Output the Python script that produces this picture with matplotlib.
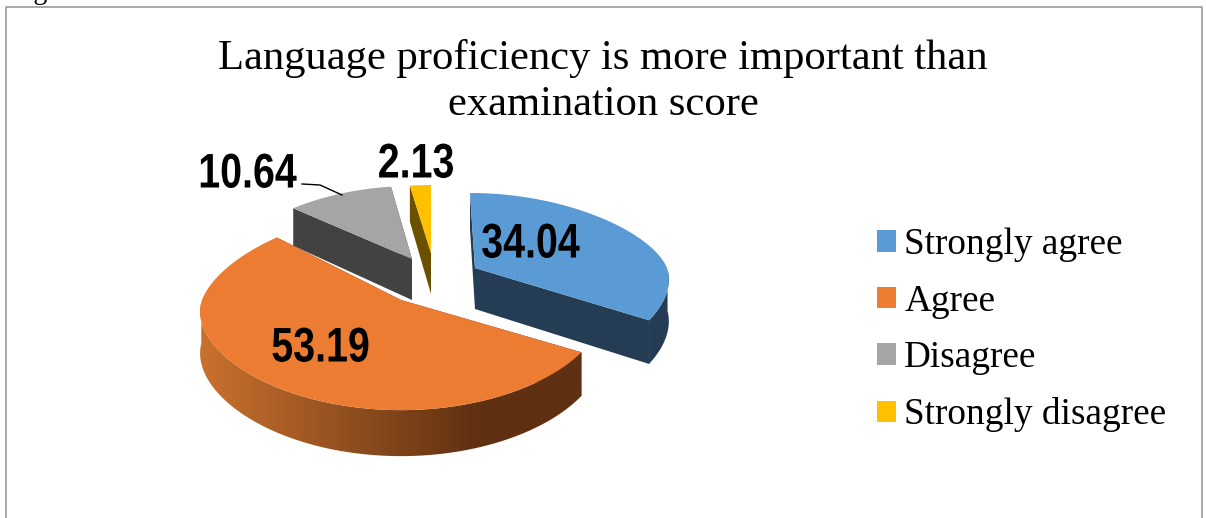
import numpy as np
import matplotlib
matplotlib.use("Agg")
import matplotlib.pyplot as plt
from matplotlib.patches import Polygon, Patch
from matplotlib.colors import LinearSegmentedColormap
from matplotlib.patheffects import AbstractPathEffect
from matplotlib.transforms import Affine2D

categories = ["Strongly agree", "Agree", "Disagree", "Strongly disagree"]
values = [34.04, 53.19, 10.64, 2.13]
title_text = "Language proficiency is more important than\nexamination score"

colors = ["#5B9BD5", "#EB7C31", "#A5A5A5", "#FFC000"]
side_colors = ["#243D55", "#5F3011", "#424242", "#6B5000"]
# slice layout in pixels: tip x, tip y, x radius, back y radius, shift of the back
tips = [(475, 268), (401, 300), (412, 259), (431, 253)]
rx = [192, 199, 183, 184]
ry_back = [75, 90, 73, 68]
back_shift = [-5, 7, 0, 0]
label_pos = [(542, 245), (332, 349), (259, 175), (425, 165)]

SERIF = ["Liberation Serif", "DejaVu Serif"]
SANS = ["Liberation Sans", "DejaVu Sans"]


class Condense(AbstractPathEffect):
    """Narrow a text horizontally about a pixel x, the text stays a text artist."""

    def __init__(self, factor):
        super().__init__()
        self.factor = factor

    def draw_path(self, renderer, gc, tpath, affine, rgbFace=None):
        cx = affine.get_matrix()[0, 2]
        squeezed = affine + Affine2D().translate(-cx, 0).scale(self.factor, 1).translate(cx, 0)
        renderer.draw_path(gc, tpath, squeezed, rgbFace)


fig = plt.figure(figsize=(12.06, 5.18), dpi=100, facecolor="white")
ax = fig.add_axes([0, 0, 1, 1])
ax.set_xlim(0, 1206)
ax.set_ylim(518, 0)
ax.axis("off")


def project(theta, i):
    X, Y = np.sin(theta), np.cos(theta)
    x = tips[i][0] + rx[i] * X * (1 - 0.14 * Y) + back_shift[i] * np.clip(Y, 0, None)
    y = np.where(Y > 0, tips[i][1] - ry_back[i] * Y,
                 tips[i][1] + 82 * (-Y) * (1 + 0.343 * (-Y)))
    return x, y


def depth(theta):
    return 41 - 5 * np.cos(theta)


total = sum(values)
edges = np.concatenate([[0], np.cumsum(values)]) / total * 2 * np.pi

# frame, open at the bottom of the picture
ax.plot([6, 6, 1202, 1202], [518, 7, 7, 518], color="#9A9A9A", lw=1.2, zorder=1)
ax.text(10, -1, "Figure 3", fontsize=20, family=SERIF, color="black", ha="left", va="baseline")

wall_cmap = LinearSegmentedColormap.from_list("wall", ["#C8702E", side_colors[1]])

order = [2, 3, 0, 1]
for i in order:
    a0, a1 = edges[i], edges[i + 1]
    th = np.linspace(a0, a1, 240)
    x, y = project(th, i)
    tx, ty = tips[i]
    z = 3 + order.index(i)
    # straight cut faces
    for ex, ey, ea in ((x[0], y[0], a0), (x[-1], y[-1], a1)):
        ax.add_patch(Polygon([(tx, ty), (ex, ey), (ex, ey + depth(ea)), (tx, ty + 41)],
                             closed=True, fc=side_colors[i], ec="none", zorder=z))
    # curved outer wall
    d = depth(th)
    front = np.cos(th) < -0.02
    if front.any():
        wall = np.r_[np.column_stack([x[front], y[front]]),
                     np.column_stack([x[front], y[front] + d[front]])[::-1]]
        if i == 1:
            patch = Polygon(wall, closed=True, fc="none", ec="none", zorder=z)
            ax.add_patch(patch)
            grad = np.clip((np.linspace(190, 600, 400) - 205) / 275, 0, 1)[None, :]
            im = ax.imshow(grad, extent=(190, 600, 470, 290), cmap=wall_cmap, vmin=0, vmax=1,
                           aspect="auto", zorder=z, interpolation="bilinear")
            im.set_clip_path(patch)
            ax.set_xlim(0, 1206)
            ax.set_ylim(518, 0)
        else:
            ax.add_patch(Polygon(wall, closed=True, fc=side_colors[i], ec="none", zorder=z))
    # top face
    pts = np.column_stack([np.r_[tx, x], np.r_[ty, y]])
    ax.add_patch(Polygon(pts, closed=True, fc=colors[i], ec="none", zorder=z + 0.5))

for v, (lx, ly) in zip(values, label_pos):
    ax.text(lx, ly, f"{v:.2f}", fontsize=35, fontweight="bold", family=SANS,
            ha="center", va="center", color="black", zorder=20,
            path_effects=[Condense(0.81)])

ax.plot([302, 320, 342], [184, 185, 195], color="black", lw=1, zorder=20)

ax.text(603, 81.5, title_text, fontsize=30.7, family=SERIF, ha="center", va="center",
        color="black", linespacing=1.27, zorder=20)

handles = [Patch(fc=c, ec="none", label=n) for c, n in zip(["#5B9BD5", "#ED7D31", "#A5A5A5", "#FFC000"], categories)]
ax.legend(handles=handles, loc="upper left", bbox_to_anchor=(877 / 1206, 1 - 227.5 / 518),
          bbox_transform=fig.transFigure, frameon=False, borderaxespad=0, borderpad=0,
          prop={"family": SERIF, "size": 26.8}, handlelength=0.51, handleheight=0.51,
          handletextpad=0.22, labelspacing=0.595)

fig.savefig("out.png", dpi=100)
